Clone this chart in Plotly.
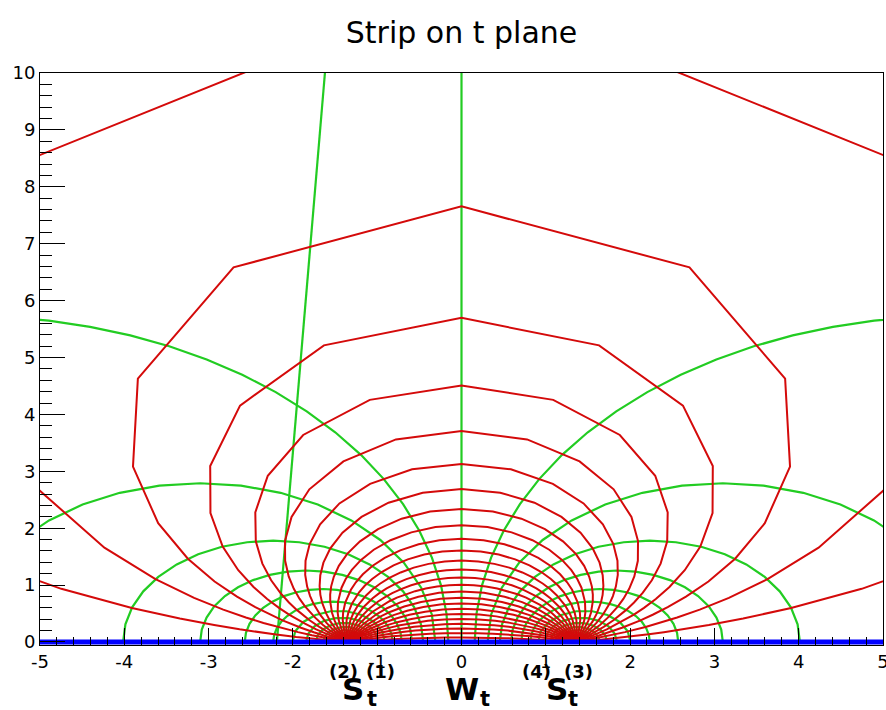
import plotly.graph_objects as go

# ---------------- data ----------------
# Red curves: right halves (x >= 0) of each symmetric arc, from its top at x=0 down to the
# point where all arcs meet on the real axis (about x = 1.35).
red_half_x = [
    [0, 11.437, 8.291, 6.065, 4.747, 3.910, 3.341, 2.934, 2.632, 2.401, 2.221, 1.961, 1.788, 1.623, 1.523, 1.35],
    [0, 5.156, 5.768, 5.013, 4.236, 3.630, 3.172, 2.826, 2.558, 2.349, 2.183, 1.939, 1.774, 1.616, 1.519, 1.35],
    [0, 2.704, 3.839, 3.897, 3.598, 3.246, 2.929, 2.663, 2.446, 2.268, 2.123, 1.904, 1.752, 1.604, 1.512, 1.35],
    [0, 1.632, 2.627, 2.981, 2.978, 2.833, 2.648, 2.467, 2.305, 2.165, 2.045, 1.857, 1.723, 1.587, 1.503, 1.35],
    [0, 1.088, 1.878, 2.298, 2.446, 2.440, 2.362, 2.258, 2.149, 2.047, 1.954, 1.802, 1.687, 1.567, 1.491, 1.35],
    [0, 0.778, 1.401, 1.805, 2.016, 2.094, 2.092, 2.050, 1.989, 1.922, 1.856, 1.739, 1.646, 1.544, 1.477, 1.35],
    [0, 0.586, 1.084, 1.448, 1.677, 1.800, 1.850, 1.854, 1.831, 1.796, 1.755, 1.673, 1.601, 1.518, 1.462, 1.35],
    [0, 0.460, 0.866, 1.186, 1.412, 1.556, 1.638, 1.675, 1.683, 1.674, 1.655, 1.604, 1.554, 1.490, 1.445, 1.35],
    [0, 0.372, 0.710, 0.990, 1.204, 1.356, 1.455, 1.515, 1.546, 1.558, 1.557, 1.536, 1.505, 1.461, 1.426, 1.35],
    [0, 0.309, 0.595, 0.842, 1.041, 1.192, 1.301, 1.375, 1.423, 1.465, 1.469, 1.457, 1.408, 1.35],
    [0, 0.262, 0.509, 0.727, 0.911, 1.058, 1.170, 1.253, 1.312, 1.379, 1.404, 1.409, 1.388, 1.35],
    [0, 0.227, 0.442, 0.637, 0.806, 0.947, 1.060, 1.148, 1.215, 1.300, 1.343, 1.363, 1.369, 1.35],
    [0, 0.199, 0.390, 0.566, 0.722, 0.856, 0.967, 1.057, 1.129, 1.228, 1.286, 1.319, 1.350, 1.35],
    [0, 0.178, 0.349, 0.509, 0.653, 0.780, 0.888, 0.979, 1.054, 1.164, 1.234, 1.277, 1.331, 1.35],
    [0, 0.160, 0.316, 0.462, 0.597, 0.717, 0.822, 0.912, 0.989, 1.106, 1.185, 1.238, 1.312, 1.35],
    [0, 0.146, 0.289, 0.424, 0.550, 0.664, 0.766, 0.855, 0.932, 1.055, 1.141, 1.202, 1.295, 1.35],
    [0, 0.267, 0.511, 0.719, 0.884, 1.009, 1.102, 1.170, 1.279, 1.35],
    [0, 0.249, 0.479, 0.679, 0.842, 0.970, 1.067, 1.140, 1.264, 1.35],
    [0, 0.234, 0.453, 0.645, 0.806, 0.936, 1.036, 1.114, 1.250, 1.35],
    [0, 0.222, 0.431, 0.617, 0.776, 0.906, 1.010, 1.091, 1.237, 1.35],
    [0, 0.212, 0.413, 0.594, 0.751, 0.881, 0.987, 1.071, 1.226, 1.35],
    [0, 0.204, 0.399, 0.576, 0.730, 0.861, 0.968, 1.054, 1.217, 1.35],
    [0, 0.198, 0.387, 0.561, 0.714, 0.844, 0.953, 1.041, 1.209, 1.35],
    [0, 0.193, 0.379, 0.550, 0.701, 0.832, 0.941, 1.030, 1.203, 1.35],
    [0, 0.190, 0.373, 0.542, 0.693, 0.823, 0.933, 1.023, 1.199, 1.35],
    [0, 0.188, 0.370, 0.537, 0.687, 0.818, 0.927, 1.018, 1.196, 1.35],
]
red_half_y = [
    [23.18, 9.452, 3.393, 1.628, 0.934, 0.598, 0.412, 0.298, 0.223, 0.172, 0.135, 0.088, 0.060, 0.035, 0.022, 0],
    [11.548, 8.465, 4.690, 2.673, 1.657, 1.104, 0.776, 0.569, 0.431, 0.334, 0.264, 0.173, 0.118, 0.070, 0.043, 0],
    [7.656, 6.584, 4.629, 3.082, 2.087, 1.464, 1.063, 0.796, 0.611, 0.479, 0.381, 0.251, 0.172, 0.102, 0.063, 0],
    [5.696, 5.214, 4.155, 3.093, 2.266, 1.676, 1.261, 0.967, 0.756, 0.599, 0.482, 0.322, 0.222, 0.133, 0.082, 0],
    [4.509, 4.255, 3.638, 2.921, 2.279, 1.768, 1.377, 1.084, 0.863, 0.694, 0.564, 0.382, 0.266, 0.161, 0.100, 0],
    [3.709, 3.560, 3.174, 2.683, 2.197, 1.774, 1.427, 1.151, 0.934, 0.762, 0.627, 0.432, 0.304, 0.185, 0.116, 0],
    [3.130, 3.035, 2.780, 2.435, 2.068, 1.726, 1.428, 1.178, 0.973, 0.806, 0.670, 0.470, 0.335, 0.206, 0.130, 0],
    [2.688, 2.624, 2.448, 2.199, 1.921, 1.646, 1.394, 1.174, 0.986, 0.828, 0.697, 0.497, 0.358, 0.223, 0.141, 0],
    [2.338, 2.293, 2.167, 1.983, 1.769, 1.548, 1.338, 1.146, 0.978, 0.832, 0.708, 0.514, 0.375, 0.236, 0.151, 0],
    [2.053, 2.020, 1.927, 1.788, 1.621, 1.443, 1.268, 1.103, 0.954, 0.706, 0.521, 0.384, 0.158, 0],
    [1.813, 1.789, 1.718, 1.611, 1.479, 1.336, 1.190, 1.049, 0.918, 0.694, 0.520, 0.388, 0.162, 0],
    [1.609, 1.590, 1.536, 1.452, 1.347, 1.229, 1.108, 0.988, 0.874, 0.672, 0.511, 0.386, 0.165, 0],
    [1.431, 1.416, 1.373, 1.307, 1.222, 1.126, 1.024, 0.922, 0.823, 0.644, 0.496, 0.378, 0.164, 0],
    [1.274, 1.262, 1.228, 1.174, 1.105, 1.026, 0.941, 0.854, 0.768, 0.610, 0.476, 0.366, 0.162, 0],
    [1.133, 1.123, 1.096, 1.053, 0.996, 0.930, 0.859, 0.785, 0.711, 0.572, 0.451, 0.350, 0.158, 0],
    [1.005, 0.997, 0.975, 0.940, 0.893, 0.839, 0.779, 0.716, 0.652, 0.531, 0.422, 0.331, 0.151, 0],
    [0.888, 0.864, 0.796, 0.700, 0.593, 0.487, 0.391, 0.309, 0.143, 0],
    [0.779, 0.759, 0.704, 0.624, 0.532, 0.441, 0.357, 0.284, 0.134, 0],
    [0.678, 0.662, 0.616, 0.549, 0.472, 0.394, 0.321, 0.257, 0.122, 0],
    [0.582, 0.569, 0.532, 0.477, 0.412, 0.346, 0.284, 0.228, 0.110, 0],
    [0.491, 0.481, 0.450, 0.405, 0.353, 0.297, 0.245, 0.198, 0.096, 0],
    [0.404, 0.396, 0.372, 0.336, 0.293, 0.248, 0.205, 0.166, 0.082, 0],
    [0.320, 0.313, 0.295, 0.267, 0.234, 0.199, 0.165, 0.134, 0.066, 0],
    [0.238, 0.233, 0.220, 0.200, 0.175, 0.149, 0.124, 0.101, 0.050, 0],
    [0.158, 0.155, 0.146, 0.133, 0.117, 0.100, 0.083, 0.068, 0.034, 0],
    [0.079, 0.077, 0.073, 0.066, 0.058, 0.050, 0.042, 0.034, 0.017, 0],
]

# Green arcs on the right side (the left side is their mirror image).
green_arc_x = [
    [5.890, 5.390, 4.895, 4.406, 3.929, 3.467, 3.023, 2.601, 2.204, 1.836, 1.498, 1.193, 0.924, 0.693, 0.502, 0.351, 0.243, 0.178, 0.156],
    [5.516, 5.237, 4.893, 4.495, 4.054, 3.584, 3.100, 2.616, 2.146, 1.705, 1.307, 0.963, 0.684, 0.478, 0.352, 0.310],
    [4.014, 3.987, 3.907, 3.775, 3.597, 3.378, 3.124, 2.843, 2.543, 2.234, 1.925, 1.625, 1.344, 1.090, 0.871, 0.693, 0.561, 0.481, 0.454],
    [3.100, 3.081, 3.024, 2.932, 2.806, 2.651, 2.472, 2.274, 2.062, 1.844, 1.626, 1.414, 1.216, 1.037, 0.882, 0.756, 0.664, 0.607, 0.588],
    [2.571, 2.557, 2.515, 2.446, 2.353, 2.238, 2.106, 1.958, 1.802, 1.640, 1.478, 1.322, 1.174, 1.042, 0.927, 0.834, 0.765, 0.723, 0.709],
    [2.234, 2.223, 2.191, 2.139, 2.068, 1.981, 1.880, 1.767, 1.648, 1.525, 1.402, 1.283, 1.170, 1.069, 0.982, 0.911, 0.859, 0.827, 0.816],
    [2.005, 1.972, 1.877, 1.731, 1.552, 1.362, 1.183, 1.037, 0.942, 0.909],
    [1.844, 1.818, 1.744, 1.630, 1.490, 1.342, 1.202, 1.088, 1.014, 0.988],
    [1.727, 1.707, 1.648, 1.559, 1.449, 1.333, 1.223, 1.134, 1.075, 1.055],
    [1.640, 1.624, 1.578, 1.508, 1.422, 1.330, 1.244, 1.174, 1.128, 1.112],
    [1.575, 1.562, 1.526, 1.471, 1.402, 1.330, 1.261, 1.206, 1.170, 1.157],
    [1.525, 1.515, 1.486, 1.443, 1.389, 1.331, 1.277, 1.234, 1.205, 1.195],
]
green_arc_y = [
    [5.734, 5.712, 5.647, 5.539, 5.388, 5.197, 4.966, 4.697, 4.392, 4.054, 3.686, 3.289, 2.867, 2.423, 1.961, 1.484, 0.995, 0.500, 0],
    [1.395, 1.793, 2.137, 2.416, 2.622, 2.748, 2.790, 2.748, 2.622, 2.416, 2.137, 1.793, 1.395, 0.954, 0.484, 0],
    [0, 0.309, 0.609, 0.890, 1.144, 1.363, 1.541, 1.673, 1.753, 1.780, 1.753, 1.673, 1.541, 1.363, 1.144, 0.890, 0.609, 0.309, 0],
    [0, 0.218, 0.430, 0.628, 0.807, 0.962, 1.088, 1.180, 1.237, 1.256, 1.237, 1.180, 1.088, 0.962, 0.807, 0.628, 0.430, 0.218, 0],
    [0, 0.162, 0.318, 0.466, 0.598, 0.713, 0.806, 0.875, 0.917, 0.931, 0.917, 0.875, 0.806, 0.713, 0.598, 0.466, 0.318, 0.162, 0],
    [0, 0.123, 0.242, 0.355, 0.456, 0.543, 0.614, 0.666, 0.698, 0.709, 0.698, 0.666, 0.614, 0.543, 0.456, 0.355, 0.242, 0.123, 0],
    [0, 0.187, 0.352, 0.475, 0.540, 0.540, 0.475, 0.352, 0.187, 0],
    [0, 0.146, 0.275, 0.371, 0.421, 0.421, 0.371, 0.275, 0.146, 0],
    [0, 0.115, 0.216, 0.291, 0.331, 0.331, 0.291, 0.216, 0.115, 0],
    [0, 0.090, 0.170, 0.229, 0.260, 0.260, 0.229, 0.170, 0.090, 0],
    [0, 0.071, 0.134, 0.181, 0.206, 0.206, 0.181, 0.134, 0.071, 0],
    [0, 0.056, 0.106, 0.143, 0.162, 0.162, 0.143, 0.106, 0.056, 0],
]

green_axis_x = [0, 0]
green_axis_y = [0, 10]
green_stray_x = [-2.19, -1.62]
green_stray_y = [0, 10]

boundary_x = [-5, 5]
boundary_y = [0, 0]

x_tick_vals = [-5, -4, -3, -2, -1, 0, 1, 2, 3, 4, 5]
x_tick_labels = ["-5", "-4", "-3", "-2", "-1", "0", "1", "2", "3", "4", "5"]
y_tick_vals = [0, 1, 2, 3, 4, 5, 6, 7, 8, 9, 10]
y_tick_labels = ["0", "1", "2", "3", "4", "5", "6", "7", "8", "9", "10"]

# ---------------- build traces ----------------
RED = "#d40a0a"
GREEN = "#22cc22"
BLUE = "#0000ff"


def joined(xs_list, ys_list, mirror_full=False, negate=False):
    X, Y = [], []
    for hx, hy in zip(xs_list, ys_list):
        if mirror_full:
            fx = [-v for v in reversed(hx)] + list(hx[1:])
            fy = list(reversed(hy)) + list(hy[1:])
        elif negate:
            fx = [-v for v in hx]
            fy = list(hy)
        else:
            fx, fy = list(hx), list(hy)
        X += fx + [None]
        Y += fy + [None]
    return X, Y


fig = go.Figure()

gx_r, gy_r = joined(green_arc_x, green_arc_y)
gx_l, gy_l = joined(green_arc_x, green_arc_y, negate=True)
for gx, gy in [(gx_r, gy_r), (gx_l, gy_l), (green_axis_x, green_axis_y), (green_stray_x, green_stray_y)]:
    fig.add_trace(go.Scatter(x=gx, y=gy, mode="lines", line=dict(color=GREEN, width=2.2),
                             hoverinfo="skip", showlegend=False))

rx, ry = joined(red_half_x, red_half_y, mirror_full=True)
fig.add_trace(go.Scatter(x=rx, y=ry, mode="lines", line=dict(color=RED, width=2),
                         hoverinfo="skip", showlegend=False))

fig.add_trace(go.Scatter(x=boundary_x, y=boundary_y, mode="lines", line=dict(color=BLUE, width=5),
                         hoverinfo="skip", showlegend=False))

# ---------------- layout ----------------
W, H = 886, 710
L, R, T, B = 40, 3, 73, 65
ph = H - T - B


def py2paper(py):
    return (H - B - py) / ph


tick_font = dict(family="DejaVu Sans", size=18, color="black")

fig.update_layout(
    width=W, height=H,
    margin=dict(l=L, r=R, t=T, b=B, pad=0, autoexpand=False),
    paper_bgcolor="white", plot_bgcolor="white",
    showlegend=False,
    title=dict(text="Strip on t plane", x=0.5, xref="paper", xanchor="center",
               y=1 - 32 / H, yref="container", yanchor="middle",
               font=dict(family="DejaVu Sans", size=30, color="black")),
    xaxis=dict(range=[-5, 5], showgrid=False, zeroline=False, automargin=False,
               showline=True, linecolor="black", linewidth=1, mirror=True,
               ticks="inside", ticklen=17, tickwidth=1, tickcolor="black",
               tickmode="array", tickvals=x_tick_vals, ticktext=x_tick_labels,
               tickfont=tick_font, ticklabeloverflow="allow",
               minor=dict(tickmode="linear", tick0=0, dtick=0.2, ticks="inside",
                          ticklen=8, tickcolor="black", showgrid=False)),
    yaxis=dict(range=[-0.053, 10], showgrid=False, zeroline=False, automargin=False,
               showline=True, linecolor="black", linewidth=1, mirror=True,
               ticks="inside", ticklen=25, tickwidth=1, tickcolor="black",
               tickmode="array", tickvals=y_tick_vals, ticktext=y_tick_labels,
               tickfont=tick_font, ticklabeloverflow="allow",
               minor=dict(tickmode="linear", tick0=0, dtick=0.2, ticks="inside",
                          ticklen=12, tickcolor="black", showgrid=False)),
)

labels = [
    ("<b>(2)</b>", -1.40, 671, 18),
    ("<b>S</b>", -1.287, 689, 31),
    ("<b>t</b>", -1.062, 699, 21),
    ("<b>(1)</b>", -0.955, 671, 18),
    ("<b>W</b>", 0.0, 689, 31),
    ("<b>t</b>", 0.279, 699, 21),
    ("<b>(4)</b>", 0.885, 671, 18),
    ("<b>S</b>", 1.133, 689, 31),
    ("<b>t</b>", 1.323, 699, 21),
    ("<b>(3)</b>", 1.392, 671, 18),
]
for txt, xv, pyv, fs in labels:
    fig.add_annotation(text=txt, x=xv, xref="x", y=py2paper(pyv), yref="paper",
                       showarrow=False, xanchor="center", yanchor="middle",
                       font=dict(family="DejaVu Sans", size=fs, color="black"))

fig.write_html("out.html", config={"displayModeBar": False},
               post_script="document.body.style.margin='0px';document.body.style.overflow='hidden';")
